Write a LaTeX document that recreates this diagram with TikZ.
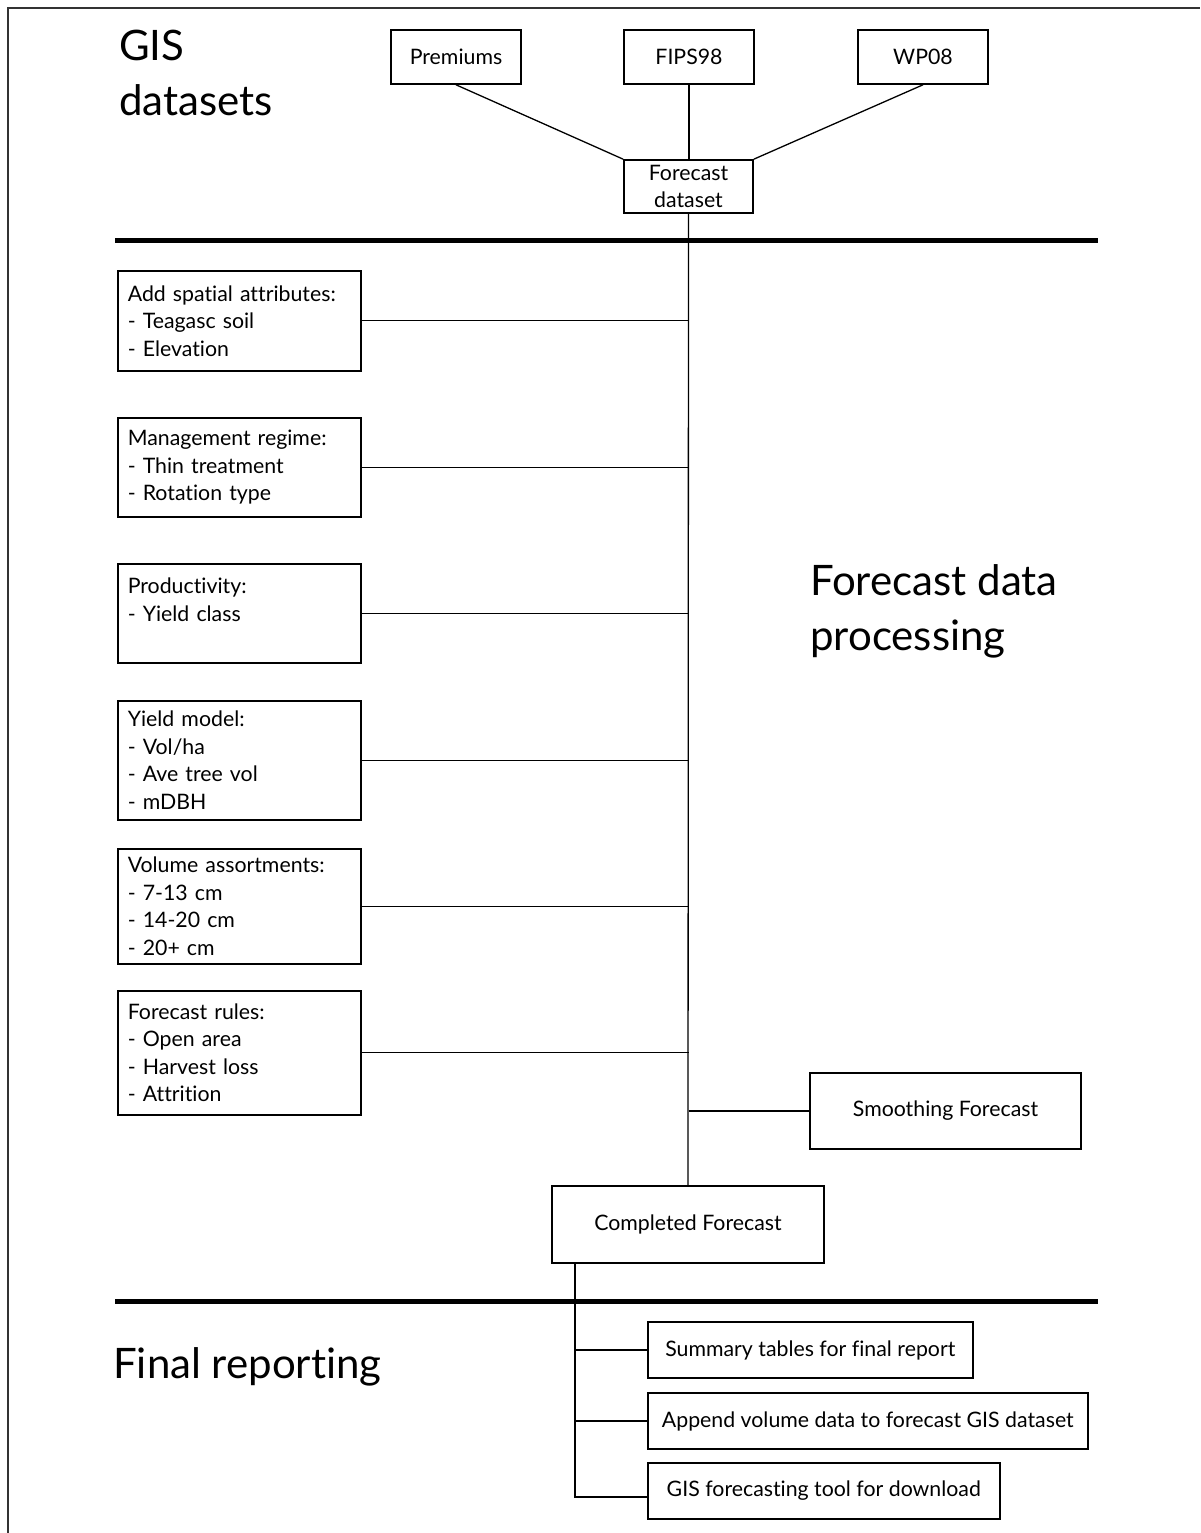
\documentclass[tikz,border=0pt]{standalone}
\usepackage{fontspec}
\setmainfont{Lato}[Ligatures=NoCommon]
\usetikzlibrary{positioning}

\tikzset{
  box/.style={draw, line width=1.6pt, inner sep=0pt, font=\fontsize{21.3}{27.5}\selectfont},
  topbox/.style={box, minimum width=130pt, minimum height=54pt},
  stepbox/.style={box, anchor=north west, minimum width=243pt, text width=223pt, align=left},
  endbox/.style={box, anchor=west, minimum height=56pt},
  title/.style={inner sep=0pt, anchor=north west, align=left, font=\fontsize{42}{55}\selectfont},
  link/.style={line width=1.3pt},
  divider/.style={line width=5pt}
}

\begin{document}
\begin{tikzpicture}[x=1pt,y=-1pt]
\useasboundingbox (0,0) rectangle (1200,1533);
% frame
\draw[line width=1.5pt, black!80] (8,1533) -- (8,8) -- (1200,8);

% section titles
\node[title] (gistitle) at (119,30) {GIS\\datasets};
\node[title] (proctitle) at (810,564) {Forecast data\\processing};
\node[title] (finaltitle) at (113,1347) {Final reporting};

% GIS datasets
\node[topbox] (prem) at (456,57) {Premiums};
\node[topbox] (fips) at (689,57) {FIPS98};
\node[topbox] (wp) at (923,57) {WP08};
\node[box, minimum width=129pt, minimum height=53pt, align=center] (fd) at (688.5,186.5) {Forecast\\dataset};
\draw[link] (prem.south) -- (fd.north west);
\draw[link] (fips.south) -- (fips.south |- fd.north);
\draw[link] (wp.south) -- (fd.north east);

\draw[divider] (115,240) -- (1098,240);

% processing steps
\node[stepbox, minimum height=100pt] (spatial) at (117,270) {Add spatial attributes:\\- Teagasc soil\\- Elevation};
\node[stepbox, minimum height=99pt] (regime) at (117,417) {Management regime:\\- Thin treatment\\- Rotation type};
\node[stepbox, minimum height=99pt] (prod) at (117,563) {Productivity:\\- Yield class\\\mbox{}};
\node[stepbox, minimum height=119pt] (yield) at (117,700) {Yield model:\\- Vol/ha\\- Ave tree vol\\- mDBH};
\node[stepbox, minimum height=115pt] (assort) at (117,848) {Volume assortments:\\- 7-13 cm\\- 14-20 cm\\- 20+ cm};
\node[stepbox, minimum height=124pt] (rules) at (117,990) {Forecast rules:\\- Open area\\- Harvest loss\\- Attrition};

\node[box, minimum width=271pt, minimum height=76pt] (smooth) at (945.5,1111) {Smoothing Forecast};
\node[box, minimum width=272pt, minimum height=77pt] (cf) at (688,1224.5) {Completed Forecast};

\draw[link] (fd.south) -- (cf.north);
\foreach \step in {spatial,regime,prod,yield,assort,rules}
  \draw[link] (\step.east) -- (\step.east -| fd.south);
\draw[link] (smooth.west -| fd.south) -- (smooth.west);

\draw[divider] (115,1301) -- (1098,1301);

% final reporting
\node[endbox, minimum width=325pt] (summ) at (647,1350) {Summary tables for final report};
\node[endbox, minimum width=440pt] (app) at (647,1421) {Append volume data to forecast GIS dataset};
\node[endbox, minimum width=352pt] (tool) at (647,1491) {GIS forecasting tool for download};
\coordinate (drop) at (575,1497);
\draw[link] (drop |- cf.south) -- (drop) -- (drop -| tool.west);
\draw[link] (summ.west -| drop) -- (summ.west);
\draw[link] (app.west -| drop) -- (app.west);
\end{tikzpicture}
\end{document}
